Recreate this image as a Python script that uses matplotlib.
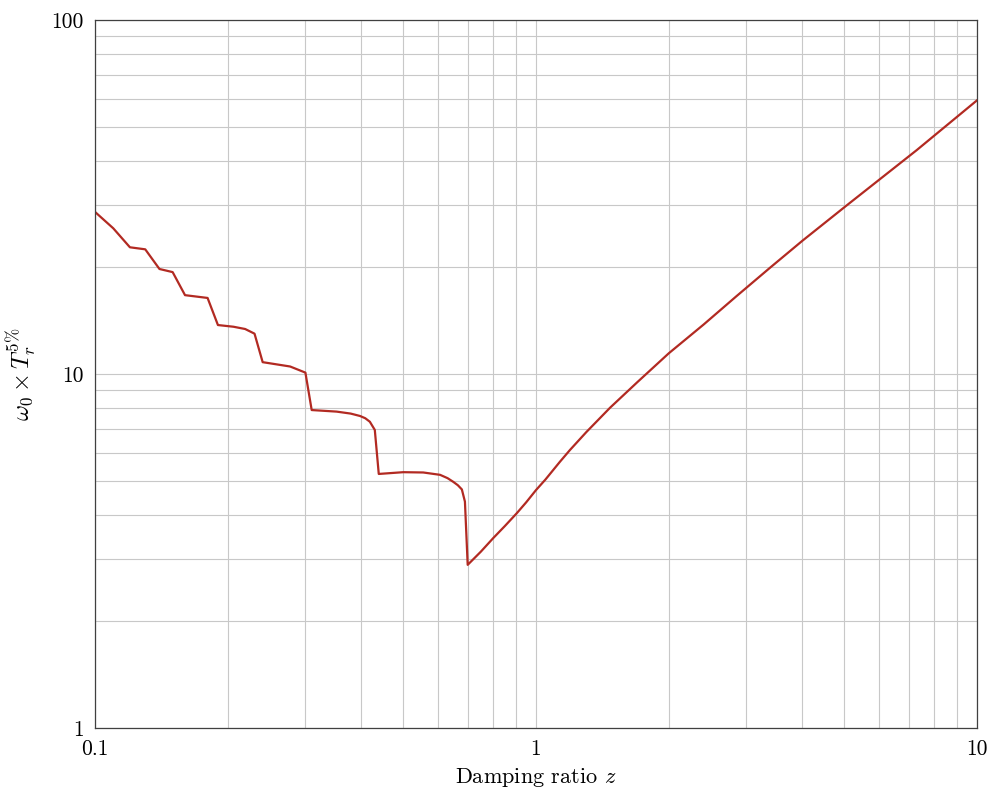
import matplotlib
matplotlib.use("Agg")
import matplotlib.pyplot as plt
from matplotlib.ticker import FixedLocator, FixedFormatter, LogLocator, NullFormatter

# damping ratio z and normalised 5% response time
z = [0.10, 0.11, 0.12, 0.13, 0.14, 0.15, 0.16, 0.18, 0.19, 0.206, 0.219, 0.23,
     0.24, 0.277, 0.30, 0.31, 0.353, 0.38, 0.399, 0.41, 0.42, 0.431, 0.44,
     0.50, 0.555, 0.606, 0.63, 0.649, 0.665, 0.679, 0.69, 0.70,
     0.75, 0.80, 0.85, 0.904, 0.95, 1.0, 1.05, 1.133, 1.194, 1.3, 1.472, 1.7,
     2.0, 2.4, 2.85, 3.4, 4.02, 5.04, 7.3, 10.0]
t_r = [28.7, 25.8, 22.8, 22.5, 19.8, 19.4, 16.7, 16.4, 13.75, 13.6, 13.4, 13.0,
       10.8, 10.5, 10.09, 7.91, 7.83, 7.73, 7.61, 7.50, 7.33, 6.95, 5.22,
       5.28, 5.27, 5.19, 5.08, 4.96, 4.85, 4.72, 4.36, 2.89,
       3.15, 3.44, 3.72, 4.04, 4.34, 4.70, 5.03, 5.65, 6.10, 6.85, 8.03, 9.5,
       11.44, 13.8, 16.6, 20.0, 23.8, 29.8, 42.9, 59.3]

x_ticks = [0.1, 1, 10]
x_tick_labels = ["0.1", "1", "10"]
y_ticks = [1, 10, 100]
y_tick_labels = ["1", "10", "100"]

plt.rcParams['font.family'] = 'serif'
plt.rcParams['font.serif'] = ['cmr10', 'DejaVu Serif']
plt.rcParams['mathtext.fontset'] = 'cm'
plt.rcParams['axes.unicode_minus'] = False

fig = plt.figure(figsize=(10.01, 7.96), dpi=100)
ax = fig.add_axes([95 / 1001, 68 / 796, 882 / 1001, 708 / 796])

ax.plot(z, t_r, color='#b22a22', linewidth=1.6)

ax.set_xscale('log')
ax.set_yscale('log')
ax.set_xlim(0.1, 10)
ax.set_ylim(1, 100)

ax.xaxis.set_major_locator(FixedLocator(x_ticks))
ax.xaxis.set_major_formatter(FixedFormatter(x_tick_labels))
ax.yaxis.set_major_locator(FixedLocator(y_ticks))
ax.yaxis.set_major_formatter(FixedFormatter(y_tick_labels))
ax.xaxis.set_minor_locator(LogLocator(base=10, subs=range(2, 10)))
ax.yaxis.set_minor_locator(LogLocator(base=10, subs=range(2, 10)))
ax.xaxis.set_minor_formatter(NullFormatter())
ax.yaxis.set_minor_formatter(NullFormatter())

ax.grid(which='both', color='#c8c8c8', linewidth=0.8)
ax.set_axisbelow(True)
ax.tick_params(which='both', length=0, labelsize=15.5, pad=8)

for spine in ax.spines.values():
    spine.set_color('#404040')
    spine.set_linewidth(0.9)

ax.set_xlabel(r'Damping ratio $z$', fontsize=16, labelpad=5)
ax.set_ylabel(r'$\omega_0 \times T_r^{5\%}$', fontsize=17.5)
ax.yaxis.set_label_coords(-0.064, 0.5)

fig.savefig('out.png', dpi=100)
